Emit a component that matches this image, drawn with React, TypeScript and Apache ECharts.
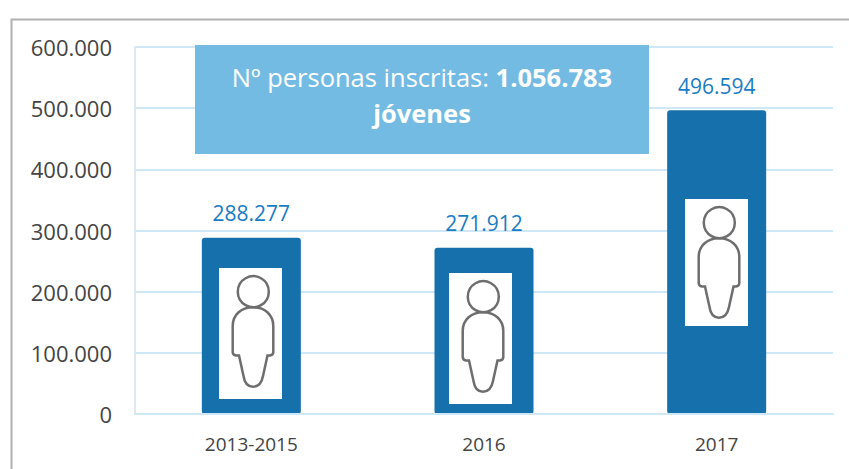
import React, { useEffect, useRef } from "react";
import * as echarts from "echarts";

const categories = ["2013-2015", "2016", "2017"];
const inscritas = [288277, 271912, 496594];
const valueLabels = ["288.277", "271.912", "496.594"];
const FONT = "'Open Sans', Lato, sans-serif";

const fmt = (v: number) =>
  v === 0 ? "0" : String(Math.floor(v / 1000)) + ".000";

echarts.graphic.registerShape(
  "personIcon",
  echarts.graphic.extendPath(
    "M13.7 58 C13.7 47 22 39.3 34 39.3 C46 39.3 54.3 47 54.3 58 L54.3 84 Q54.3 87 51 87.5 L48.5 87.5 L44 108 Q42 118.7 34 118.7 Q26 118.7 24.5 108 L20 87.5 L17 87.5 Q13.7 87 13.7 84 Z",
    {}
  ) as any
);

const icon = (x: number, y: number, h: number) => ({
  type: "group",
  x,
  y,
  children: [
    { type: "rect", z: 10, shape: { x: 0, y: 0, width: 63, height: h }, style: { fill: "#ffffff" } },
    { type: "circle", z: 11, shape: { cx: 34.3, cy: 23.7, r: 15.5 }, style: { fill: "none", stroke: "#6e6e6e", lineWidth: 2.5 } },
    { type: "personIcon", z: 11, x: 0, y: 0, style: { fill: "none", stroke: "#6e6e6e", lineWidth: 2.5 } },
  ],
});

export default function App() {
  const ref = useRef<HTMLDivElement>(null);
  useEffect(() => {
    const chart = echarts.init(ref.current!, undefined, { renderer: "svg" });
    chart.setOption({
      animation: false,
      backgroundColor: "#ffffff",
      grid: { left: 135, right: 16, top: 47, bottom: 55, containLabel: false },
      xAxis: {
        type: "category",
        data: categories,
        z: 5,
        axisLine: { show: true, lineStyle: { color: "#cfe8f7", width: 2 } },
        axisTick: { show: false },
        axisLabel: { color: "#444444", fontFamily: FONT, fontSize: 19, margin: 20 },
      },
      yAxis: {
        type: "value",
        min: 0,
        max: 600000,
        interval: 100000,
        axisLine: { show: true, lineStyle: { color: "#dfe8ef", width: 2 } },
        axisTick: { show: false },
        splitLine: { lineStyle: { color: "#cfe8f7", width: 2 } },
        axisLabel: { color: "#444444", fontFamily: FONT, fontSize: 22, margin: 23, padding: [0, 0, 3, 0], formatter: fmt },
      },
      series: [
        {
          type: "bar",
          data: inscritas,
          barWidth: 99,
          itemStyle: {
            color: "#1670ab",
            borderRadius: 3,
          },
          label: {
            show: true,
            position: "top",
            distance: 14,
            color: "#1a7cc4",
            fontFamily: FONT,
            fontSize: 21,
            formatter: (p: any) => valueLabels[p.dataIndex],
          },
        },
      ],
      graphic: [
        {
          type: "rect",
          left: 9,
          top: 17,
          shape: { width: 860, height: 470 },
          style: { fill: "none", stroke: "#b0b0b0", lineWidth: 2 },
          z: 20,
        },
        {
          type: "rect",
          shape: { x: 195, y: 45, width: 454, height: 109 },
          style: { fill: "#74bbe4" },
          z: 10,
        },
        {
          type: "text",
          x: 422,
          y: 95,
          z: 11,
          style: {
            text: "{n|Nº personas inscritas: }{b|1.056.783}\n{b|jóvenes}",
            align: "center",
            verticalAlign: "middle",
            fill: "#ffffff",
            rich: {
              n: { fontFamily: FONT, fontSize: 25.5, fill: "#ffffff", lineHeight: 36 },
              b: { fontFamily: FONT, fontSize: 25.5, fontWeight: "bold", fill: "#ffffff", lineHeight: 36 },
            },
          },
        },
        icon(219, 268, 131),
        icon(449, 273, 131),
        icon(685, 199, 127),
      ],
    });
    return () => chart.dispose();
  }, []);
  return (
    <div
      ref={ref}
      style={{ position: "absolute", left: 0, top: 0, width: 849, height: 469 }}
    />
  );
}
